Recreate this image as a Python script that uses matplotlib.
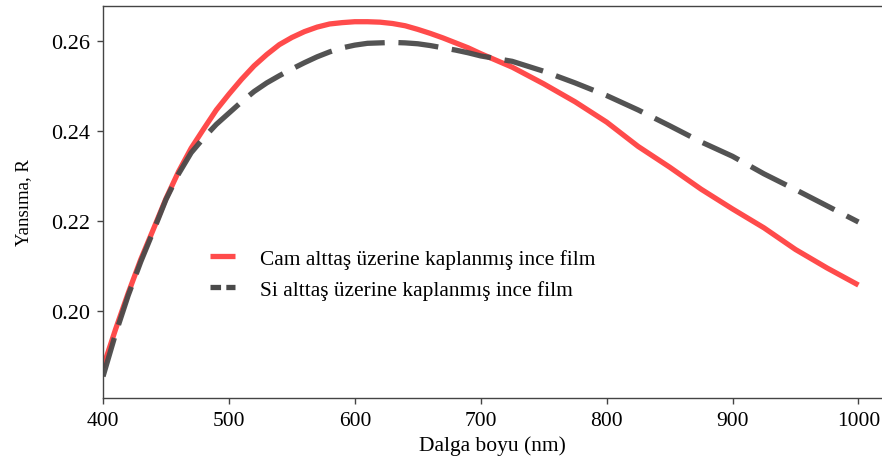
import matplotlib
matplotlib.use("Agg")
import matplotlib.pyplot as plt
from matplotlib.lines import Line2D

plt.rcParams['font.family'] = ['Liberation Serif', 'DejaVu Serif']

# wavelength (nm)
wavelength = [400, 410, 420, 430, 440, 450, 460, 470, 480, 490, 500, 510, 520, 530,
              540, 550, 560, 570, 580, 590, 600, 610, 620, 630, 640, 650, 660, 670,
              680, 690, 700, 725, 750, 775, 800, 825, 850, 875, 900, 925, 950, 975,
              1000]

# reflectance, glass substrate
r_glass = [0.1875, 0.1960, 0.2040, 0.2115, 0.2182, 0.2250, 0.2310, 0.2362, 0.2405,
           0.2447, 0.2482, 0.2515, 0.2545, 0.2570, 0.2592, 0.2608, 0.2621, 0.2631,
           0.2638, 0.2641, 0.2643, 0.2643, 0.2642, 0.2639, 0.2634, 0.2626, 0.2617,
           0.2607, 0.2596, 0.2585, 0.2572, 0.2542, 0.2505, 0.2465, 0.2420, 0.2366,
           0.2320, 0.2271, 0.2227, 0.2185, 0.2137, 0.2096, 0.2058]

# reflectance, Si substrate
r_si = [0.1855, 0.1950, 0.2035, 0.2110, 0.2178, 0.2248, 0.2305, 0.2352, 0.2385,
        0.2415, 0.2440, 0.2465, 0.2488, 0.2507, 0.2523, 0.2538, 0.2552, 0.2565,
        0.2576, 0.2585, 0.2591, 0.2595, 0.2596, 0.2597, 0.2596, 0.2594, 0.2590,
        0.2585, 0.2580, 0.2574, 0.2567, 0.2555, 0.2533, 0.2507, 0.2479, 0.2447,
        0.2412, 0.2376, 0.2344, 0.2305, 0.2270, 0.2234, 0.2198]

labels = ['Cam alttaş üzerine kaplanmış ince film',
          'Si alttaş üzerine kaplanmış ince film']
xticks = [400, 500, 600, 700, 800, 900, 1000]
yticks = [0.20, 0.22, 0.24, 0.26]

red = '#ff4b4b'
grey = '#4a4a4a'

fig = plt.figure(figsize=(8.82, 4.64), dpi=100)
ax = fig.add_axes([0.1168, 0.140, 1.0 - 0.1168, 0.985 - 0.140])

ax.plot(wavelength, r_glass, color=red, lw=3.8, solid_capstyle='butt')
ax.plot(wavelength, r_si, color=grey, lw=3.8, alpha=0.95,
        dashes=(7.6, 2.6), dash_capstyle='butt')

ax.set_xlim(400, 1018.7)
ax.set_ylim(0.1807, 0.2678)
ax.set_xticks(xticks)
ax.set_yticks(yticks)
ax.set_yticklabels([f'{v:.2f}' for v in yticks])

ax.spines['right'].set_visible(False)
for s in ('left', 'top', 'bottom'):
    ax.spines[s].set_color('#444444')
    ax.spines[s].set_linewidth(1.0)
ax.tick_params(direction='out', length=4, width=1, color='#444444',
               labelsize=16, pad=5)
ax.tick_params(axis='x', labelsize=15.5)

ax.set_xlabel('Dalga boyu (nm)', fontsize=15.5, labelpad=4)
ax.set_ylabel('Yansıma, R', fontsize=13.5, labelpad=14)

handles = [Line2D([], [], color=red, lw=3.8, solid_capstyle='butt'),
           Line2D([], [], color=grey, lw=3.8, dashes=(2, 1), dash_capstyle='butt')]
leg = ax.legend(handles, labels, loc='upper left',
                bbox_to_anchor=(210 / 882, 1 - 250 / 464),
                bbox_transform=fig.transFigure, frameon=False, fontsize=15.4,
                handlelength=1.17, handletextpad=1.17, labelspacing=0.5,
                borderpad=0, borderaxespad=0)

fig.savefig('out.png', dpi=100)
